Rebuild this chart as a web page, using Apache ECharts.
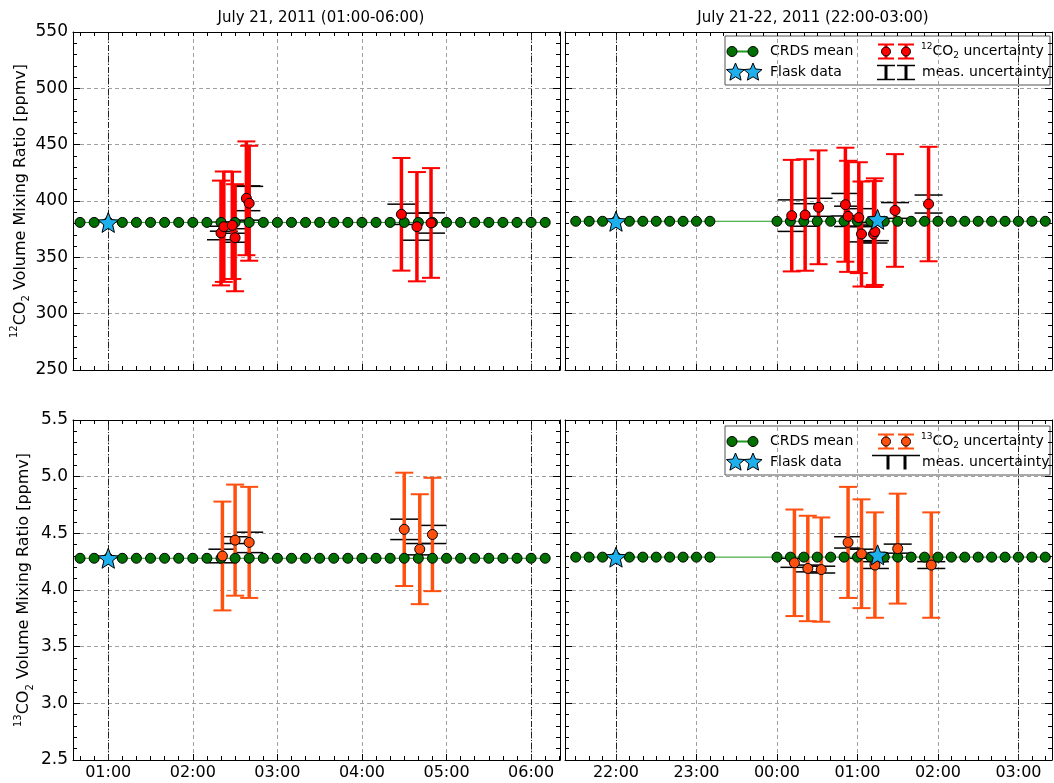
<!DOCTYPE html>
<html><head><meta charset="utf-8">
<script src="https://cdn.jsdelivr.net/npm/echarts@6/dist/echarts.min.js"></script>
<style>html,body{margin:0;padding:0;background:#fff}#c{width:1054px;height:783px}</style>
</head><body><div id="c"></div><script>
// ---------------- data ----------------
const titleLeft = 'July 21, 2011 (01:00-06:00)';
const titleRight = 'July 21-22, 2011 (22:00-03:00)';

const leftHourTicks = [1, 2, 3, 4, 5, 6];
const leftHourLabels = ['01:00', '02:00', '03:00', '04:00', '05:00', '06:00'];
const rightHourTicks = [22, 23, 24, 25, 26, 27];
const rightHourLabels = ['22:00', '23:00', '00:00', '01:00', '02:00', '03:00'];
const leftBounds = [1, 6];
const rightBounds = [22, 27];

const y12Ticks = [250, 300, 350, 400, 450, 500, 550];
const y13Ticks = ['2.5', '3.0', '3.5', '4.0', '4.5', '5.0', '5.5'];

// CRDS mean (10-min means)
const crdsLeftTimes = ['00:40','00:50','01:00','01:10','01:20','01:30','01:40','01:50','02:00','02:10','02:20','02:30','02:40','02:50','03:00','03:10','03:20','03:30','03:40','03:50','04:00','04:10','04:20','04:30','04:40','04:50','05:00','05:10','05:20','05:30','05:40','05:50','06:00','06:10'];
const crds12Left = [381,381,381,381,381,381,381,381,381,381,381,381,381,381,381,381,381,381,381,381,381,381,381,381,381,381,381,381,381,381,381,381,381,381];
const crds13Left = [4.28,4.28,4.28,4.28,4.28,4.28,4.28,4.28,4.28,4.28,4.28,4.28,4.28,4.28,4.28,4.28,4.28,4.28,4.28,4.28,4.28,4.28,4.28,4.28,4.28,4.28,4.28,4.28,4.28,4.28,4.28,4.28,4.28,4.28];
const crdsRightTimes = ['21:30','21:40','21:50','22:00','22:10','22:20','22:30','22:40','22:50','23:00','23:10','00:00','00:10','00:20','00:30','00:40','00:50','01:00','01:10','01:20','01:30','01:40','01:50','02:00','02:10','02:20','02:30','02:40','02:50','03:00','03:10','03:20'];
const crds12Right = [382,382,382,382,382,382,382,382,382,382,382,382,382,382,382,382,382,382,382,382,382,382,382,382,382,382,382,382,382,382,382,382];
const crds13Right = [4.29,4.29,4.29,4.29,4.29,4.29,4.29,4.29,4.29,4.29,4.29,4.29,4.29,4.29,4.29,4.29,4.29,4.29,4.29,4.29,4.29,4.29,4.29,4.29,4.29,4.29,4.29,4.29,4.29,4.29,4.29,4.29];

// Flask data
const flaskLeftTimes = ['01:00'];
const flask12Left = [381];
const flask13Left = [4.28];
const flaskRightTimes = ['22:00', '01:15'];
const flask12Right = [382, 383.7];
const flask13Right = [4.29, 4.31];

// 12CO2 samples
const s12LeftTimes = ['02:20','02:22','02:28','02:30','02:38','02:40','04:28','04:39','04:49'];
const s12Left      = [371.6, 377.2, 378.4, 367.4, 402.4, 398.0, 388.2, 377.2, 380.5];
const s12LeftErr   = [46.5, 49.0, 47.6, 47.5, 50.5, 51.0, 50.0, 48.5, 48.7];
const s12LeftMeas  = [6, 4, 3, 4, 11, 15, 9, 12, 9];
const s12RightTimes = ['00:11','00:21','00:31','00:51','00:53','01:01','01:03','01:12','01:13','01:28','01:53'];
const s12Right      = [387.0, 387.6, 394.4, 396.7, 386.4, 385.2, 370.7, 370.7, 372.8, 391.6, 397.3];
const s12RightErr   = [49.5, 49.5, 50.5, 50.6, 49.3, 49.2, 46.6, 47.0, 47.3, 50.0, 50.8];
const s12RightMeas  = [14, 10, 8, 10, 9, 8, 7, 8, 8, 7, 8];

// 13CO2 samples
const s13LeftTimes = ['02:21','02:30','02:40','04:30','04:41','04:50'];
const s13Left      = [4.30, 4.44, 4.42, 4.535, 4.36, 4.49];
const s13LeftErr   = [0.48, 0.49, 0.49, 0.50, 0.485, 0.50];
const s13LeftMeas  = [0.06, 0.03, 0.09, 0.09, 0.05, 0.08];
const s13RightTimes = ['00:13','00:23','00:33','00:53','01:03','01:13','01:30','01:55'];
const s13Right      = [4.24, 4.19, 4.18, 4.42, 4.32, 4.22, 4.365, 4.22];
const s13RightErr   = [0.47, 0.465, 0.46, 0.49, 0.48, 0.465, 0.485, 0.465];
const s13RightMeas  = [0.04, 0.03, 0.03, 0.05, 0.04, 0.03, 0.04, 0.03];

// ---------------- helpers ----------------
const FONT = 'DejaVu Sans';
const RED = '#ff0000', ORANGE = '#ff5010';
const GREEN_DOT = '#007000', GREEN_LINE = '#1f9a1f', STAR = '#1eb0ec';
const GRIDC = '#a0a0a0';
const STAR_PATH = 'path://M50,0L62.93,32.2L97.55,34.55L70.92,56.8L79.39,90.45L50,72L20.61,90.45L29.08,56.8L2.45,34.55L37.07,32.2Z';

function toH(s, wrap) {
  const p = s.split(':').map(Number);
  let v = p[0] + p[1] / 60;
  if (wrap && v < 12) v += 24;
  return v;
}
function pts(times, vals, wrap, e1, e2) {
  return times.map((t, i) => {
    const r = [toH(t, wrap), vals[i]];
    if (e1) r.push(e1[i]);
    if (e2) r.push(e2[i]);
    return r;
  });
}
function minuteTicks(m0, m1) { const a = []; for (let m = m0; m <= m1; m += 10) a.push(m / 60); return a; }

const xRangeL = [35 / 60, 6 + 20.5 / 60];
const xRangeR = [21 + 22 / 60, 27 + 25 / 60];
const minorL = minuteTicks(40, 380);
const minorR = minuteTicks(21 * 60 + 30, 27 * 60 + 20);

const grids = [
  { left: 73, top: 32, width: 487, height: 338 },
  { left: 565, top: 32, width: 487, height: 338 },
  { left: 73, top: 420, width: 487, height: 340 },
  { left: 565, top: 420, width: 487, height: 340 }
];

function labelFor(v, ticks, labels) {
  for (let i = 0; i < ticks.length; i++) if (Math.abs(ticks[i] - v) < 1e-6) return labels[i];
  return '';
}

function xAxes(g, range, hourTicks, hourLabels, minor, showLabels) {
  return [
    { gridIndex: g, type: 'value', position: 'bottom', min: range[0], max: range[1],
      axisLine: { show: true, onZero: false, lineStyle: { color: '#000', width: 1 } },
      axisTick: { show: true, inside: true, length: 6, customValues: hourTicks, lineStyle: { color: '#000' } },
      axisLabel: { show: showLabels, customValues: hourTicks, formatter: v => labelFor(v, hourTicks, hourLabels),
        fontFamily: FONT, fontSize: 16, color: '#000', margin: 5 },
      splitLine: { show: true, lineStyle: { color: GRIDC, type: [4, 3], width: 1 } } },
    { gridIndex: g, type: 'value', position: 'bottom', min: range[0], max: range[1],
      axisLine: { show: false }, axisLabel: { show: false }, splitLine: { show: false },
      axisTick: { show: true, inside: true, length: 4, customValues: minor, lineStyle: { color: '#000' } } },
    { gridIndex: g, type: 'value', position: 'top', min: range[0], max: range[1],
      axisLine: { show: true, onZero: false, lineStyle: { color: '#000', width: 1 } },
      axisLabel: { show: false }, splitLine: { show: false },
      axisTick: { show: true, inside: true, length: 4, customValues: minor, lineStyle: { color: '#000' } } }
  ];
}

function axisName(iso) {
  return '{sup|' + iso + '}{t|CO}{sub|2}{t| Volume Mixing Ratio [ppmv]}';
}
const nameRich = {
  t: { fontFamily: FONT, fontSize: 16, color: '#000', lineHeight: 22, verticalAlign: 'middle' },
  sup: { fontFamily: FONT, fontSize: 10, color: '#000', verticalAlign: 'top' },
  sub: { fontFamily: FONT, fontSize: 10, color: '#000', verticalAlign: 'bottom' }
};

function yAxes(g, min, max, interval, labels, name) {
  const common = { gridIndex: g, type: 'value', min, max, interval,
    axisLine: { show: true, onZero: false, lineStyle: { color: '#000', width: 1 } },
    axisTick: { show: true, inside: true, length: 7, lineStyle: { color: '#000' } },
    minorTick: { show: true, splitNumber: 5, length: 4, lineStyle: { color: '#000' } } };
  return [
    Object.assign({}, common, { position: 'left',
      axisLabel: { show: !!labels, fontFamily: FONT, fontSize: 17, color: '#000', margin: 5,
        formatter: v => { if (!labels) return ''; const i = Math.round((v - min) / interval); return String(labels[i]); } },
      splitLine: { show: true, lineStyle: { color: GRIDC, type: [4, 3], width: 1 } },
      name: name || '', nameLocation: 'middle', nameGap: 38, nameRotate: 90,
      nameTextStyle: { rich: nameRich } }),
    Object.assign({}, common, { position: 'right', axisLabel: { show: false }, splitLine: { show: false } })
  ];
}

function errRender(color, capHalf, lw, capW) {
  return function (params, api) {
    const x = api.value(0), y = api.value(1), e = api.value(2);
    const top = api.coord([x, y + e]), bot = api.coord([x, y - e]);
    return { type: 'group', children: [
      { type: 'line', shape: { x1: top[0], y1: top[1], x2: bot[0], y2: bot[1] }, style: { stroke: color, lineWidth: lw } },
      { type: 'line', shape: { x1: top[0] - capHalf, y1: top[1], x2: top[0] + capHalf, y2: top[1] }, style: { stroke: color, lineWidth: capW } },
      { type: 'line', shape: { x1: bot[0] - capHalf, y1: bot[1], x2: bot[0] + capHalf, y2: bot[1] }, style: { stroke: color, lineWidth: capW } }
    ] };
  };
}
function measRender(params, api) {
  const x = api.value(0), y = api.value(1), e = api.value(3);
  const top = api.coord([x, y + e]), bot = api.coord([x, y - e]);
  const st = { stroke: '#000', lineWidth: 1.5 };
  return { type: 'group', children: [
    { type: 'line', shape: { x1: top[0], y1: top[1], x2: bot[0], y2: bot[1] }, style: { stroke: '#000', lineWidth: 2 } },
    { type: 'line', shape: { x1: top[0] - 14, y1: top[1], x2: top[0] + 14, y2: top[1] }, style: st },
    { type: 'line', shape: { x1: bot[0] - 14, y1: bot[1], x2: bot[0] + 14, y2: bot[1] }, style: st }
  ] };
}

function panelSeries(g, crds, flask, samples, color, bounds) {
  const xi = g * 3, yi = g * 2;
  return [
    { type: 'custom', name: 'meas. uncertainty', xAxisIndex: xi, yAxisIndex: yi, data: samples, clip: true, z: 2,
      encode: { x: 0, y: 1 }, renderItem: measRender, silent: true },
    { type: 'custom', name: 'uncertainty', xAxisIndex: xi, yAxisIndex: yi, data: samples, clip: true, z: 3,
      encode: { x: 0, y: 1 }, renderItem: errRender(color, 9, 3.5, 2), silent: true },
    { type: 'line', name: 'CRDS mean', xAxisIndex: xi, yAxisIndex: yi, data: crds, z: 4,
      symbol: 'circle', symbolSize: 10, showSymbol: true,
      lineStyle: { color: GREEN_LINE, width: 1 },
      itemStyle: { color: GREEN_DOT, borderColor: '#000', borderWidth: 1 },
      markLine: { silent: true, symbol: 'none', label: { show: false }, z: 1,
        lineStyle: { color: '#222', type: [6, 2, 1, 2], width: 1 },
        data: bounds.map(b => ({ xAxis: b })) } },
    { type: 'scatter', name: 'samples', xAxisIndex: xi, yAxisIndex: yi, data: samples, z: 5,
      symbol: 'circle', symbolSize: 10, itemStyle: { color: color, borderColor: '#000', borderWidth: 1, opacity: 1 } },
    { type: 'scatter', name: 'Flask data', xAxisIndex: xi, yAxisIndex: yi, data: flask, z: 6,
      symbol: STAR_PATH, symbolSize: 20, itemStyle: { color: STAR, borderColor: '#000', borderWidth: 1, opacity: 1 } }
  ];
}

// ---------------- legend (graphic) ----------------
function starPts(cx, cy, R, r) {
  const p = [];
  for (let k = 0; k < 10; k++) {
    const a = -Math.PI / 2 + k * Math.PI / 5, rr = k % 2 ? r : R;
    p.push([cx + rr * Math.cos(a), cy + rr * Math.sin(a)]);
  }
  return p;
}
function legendGraphic(y0, iso, color, joinedMeas) {
  const r1 = y0 + 15.5, r2 = y0 + 36.5;
  const els = [];
  els.push({ type: 'rect', shape: { x: 725, y: y0, width: 325, height: 49 }, style: { fill: '#fff', stroke: '#555', lineWidth: 1 } });
  els.push({ type: 'line', shape: { x1: 732, y1: r1, x2: 753, y2: r1 }, style: { stroke: GREEN_LINE, lineWidth: 2 } });
  [732, 753].forEach(cx => els.push({ type: 'circle', shape: { cx, cy: r1, r: 5 }, style: { fill: GREEN_DOT, stroke: '#000', lineWidth: 1 } }));
  [735.5, 753].forEach(cx => els.push({ type: 'polygon', shape: { points: starPts(cx, r2, 9.5, 4.3) }, style: { fill: STAR, stroke: '#000', lineWidth: 1 } }));
  [886, 906].forEach(cx => {
    els.push({ type: 'line', shape: { x1: cx, y1: r1 - 7, x2: cx, y2: r1 + 7 }, style: { stroke: color, lineWidth: 3 } });
    els.push({ type: 'line', shape: { x1: cx - 8, y1: r1 - 7, x2: cx + 8, y2: r1 - 7 }, style: { stroke: color, lineWidth: 2 } });
    els.push({ type: 'line', shape: { x1: cx - 8, y1: r1 + 7, x2: cx + 8, y2: r1 + 7 }, style: { stroke: color, lineWidth: 2 } });
    els.push({ type: 'circle', shape: { cx, cy: r1, r: 4.5 }, style: { fill: color, stroke: '#000', lineWidth: 1 } });
  });
  if (joinedMeas) {
    els.push({ type: 'line', shape: { x1: 872, y1: r2 - 7, x2: 920, y2: r2 - 7 }, style: { stroke: '#000', lineWidth: 1.5 } });
    [888, 905].forEach(cx => els.push({ type: 'line', shape: { x1: cx, y1: r2 - 7, x2: cx, y2: r2 + 7 }, style: { stroke: '#000', lineWidth: 3 } }));
  } else {
    [886, 906].forEach(cx => {
      els.push({ type: 'line', shape: { x1: cx, y1: r2 - 7, x2: cx, y2: r2 + 7 }, style: { stroke: '#000', lineWidth: 3 } });
      els.push({ type: 'line', shape: { x1: cx - 9, y1: r2 - 7, x2: cx + 9, y2: r2 - 7 }, style: { stroke: '#000', lineWidth: 1.5 } });
      els.push({ type: 'line', shape: { x1: cx - 9, y1: r2 + 7, x2: cx + 9, y2: r2 + 7 }, style: { stroke: '#000', lineWidth: 1.5 } });
    });
  }
  const ts = { fontFamily: FONT, fontSize: 14, fill: '#000', verticalAlign: 'middle', align: 'left' };
  els.push({ type: 'text', style: Object.assign({ x: 770, y: r1, text: 'CRDS mean' }, ts) });
  els.push({ type: 'text', style: Object.assign({ x: 770, y: r2, text: 'Flask data' }, ts) });
  els.push({ type: 'text', style: Object.assign({ x: 922, y: r2, text: 'meas. uncertainty' }, ts) });
  els.push({ type: 'text', style: Object.assign({ x: 921, y: r1,
    text: '{sup|' + iso + '}{t|CO}{sub|2}{t| uncertainty}',
    rich: { t: { fontFamily: FONT, fontSize: 14, fill: '#000', lineHeight: 18, verticalAlign: 'middle' },
            sup: { fontFamily: FONT, fontSize: 9, fill: '#000', verticalAlign: 'top' },
            sub: { fontFamily: FONT, fontSize: 9, fill: '#000', verticalAlign: 'bottom' } } }, ts) });
  return { type: 'group', z: 100, children: els };
}

// ---------------- option ----------------
const option = {
  animation: false,
  backgroundColor: '#fff',
  title: [
    { text: titleLeft, left: 316, top: 6, textAlign: 'center', textStyle: { fontFamily: FONT, fontSize: 15, fontWeight: 'normal', color: '#000' } },
    { text: titleRight, left: 808, top: 6, textAlign: 'center', textStyle: { fontFamily: FONT, fontSize: 15, fontWeight: 'normal', color: '#000' } }
  ],
  grid: grids,
  xAxis: [].concat(
    xAxes(0, xRangeL, leftHourTicks, leftHourLabels, minorL, false),
    xAxes(1, xRangeR, rightHourTicks, rightHourLabels, minorR, false),
    xAxes(2, xRangeL, leftHourTicks, leftHourLabels, minorL, true),
    xAxes(3, xRangeR, rightHourTicks, rightHourLabels, minorR, true)
  ),
  yAxis: [].concat(
    yAxes(0, 250, 550, 50, y12Ticks, axisName('12')),
    yAxes(1, 250, 550, 50, null, ''),
    yAxes(2, 2.5, 5.5, 0.5, y13Ticks, axisName('13')),
    yAxes(3, 2.5, 5.5, 0.5, null, '')
  ),
  series: [].concat(
    panelSeries(0, pts(crdsLeftTimes, crds12Left, false), pts(flaskLeftTimes, flask12Left, false),
      pts(s12LeftTimes, s12Left, false, s12LeftErr, s12LeftMeas), RED, leftBounds),
    panelSeries(1, pts(crdsRightTimes, crds12Right, true), pts(flaskRightTimes, flask12Right, true),
      pts(s12RightTimes, s12Right, true, s12RightErr, s12RightMeas), RED, rightBounds),
    panelSeries(2, pts(crdsLeftTimes, crds13Left, false), pts(flaskLeftTimes, flask13Left, false),
      pts(s13LeftTimes, s13Left, false, s13LeftErr, s13LeftMeas), ORANGE, leftBounds),
    panelSeries(3, pts(crdsRightTimes, crds13Right, true), pts(flaskRightTimes, flask13Right, true),
      pts(s13RightTimes, s13Right, true, s13RightErr, s13RightMeas), ORANGE, rightBounds)
  ),
  graphic: [legendGraphic(36, '12', RED, false), legendGraphic(426, '13', ORANGE, true)]
};
const chart = echarts.init(document.getElementById('c'), null, { renderer: 'canvas', width: 1054, height: 783 });
chart.setOption(option);
</script></body></html>
